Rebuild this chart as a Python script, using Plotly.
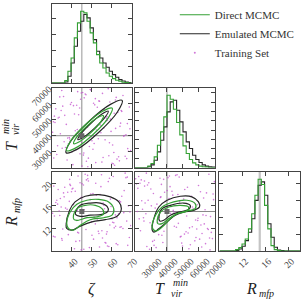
import plotly.graph_objects as go

# ---------------- data ----------------
zeta_range = [30, 70]
tvir_range = [20000, 70000]
rmfp_range = [8, 22]
zeta_true, tvir_true, rmfp_true = 45, 40000, 15

zeta_ticks = [40, 50, 60, 70]
tvir_ticks = [30000, 40000, 50000, 60000, 70000]
rmfp_ticks = [12, 16, 20]

# 25-bin histograms over the axis ranges
zeta_direct = [0, 0, 0, 0, 7, 35, 75, 135, 180, 215, 210, 185, 150, 120, 85, 60, 45, 30, 20, 13, 8, 5, 2, 1, 0]
zeta_emulated = [0, 0, 0, 0, 3, 20, 60, 110, 155, 185, 205, 195, 165, 130, 95, 75, 60, 47, 35, 25, 17, 10, 6, 3, 1]
tvir_direct = [0, 0, 0, 0, 4, 12, 32, 67, 107, 152, 217, 205, 175, 135, 98, 65, 42, 24, 14, 8, 4, 2, 1, 0, 0]
tvir_emulated = [0, 0, 0, 0, 2, 8, 22, 47, 82, 122, 167, 197, 202, 172, 137, 107, 77, 57, 37, 24, 15, 8, 4, 2, 1]
rmfp_direct = [0, 0, 0, 0, 0, 4, 10, 21, 36, 66, 111, 166, 214, 198, 136, 66, 16, 4, 1, 0, 0, 0, 0, 0, 0]
rmfp_emulated = [0, 0, 0, 0, 0, 2, 6, 14, 31, 56, 96, 151, 196, 206, 166, 81, 41, 11, 3, 1, 0, 0, 0, 0, 0]

# contour paths (x, y)
tz_emu_outer = [(65.3, 62200), (62.9, 54900), (53.7, 42300), (43.0, 31700), (37.1, 29300), (39.4, 36500), (48.7, 49100), (59.4, 59700)]
tz_emu_inner = [(58.3, 55400), (56.8, 51800), (51.7, 45050), (46.0, 39150), (43.0, 37500), (44.5, 41100), (49.6, 47850), (55.35, 53800)]
tz_dir_outer = [(60.3, 57300), (58.4, 51400), (50.9, 41100), (42.2, 32500), (37.4, 30550), (39.25, 36450), (46.7, 46700), (55.45, 55350)]
tz_dir_inner = [(55.9, 52600), (54.6, 48850), (49.7, 42100), (44.0, 36400), (40.85, 35000), (42.2, 38800), (47.1, 45500), (52.8, 51250)]

rz_emu_outer = [(37.1, 12.6), (38.8, 15.2), (41.6, 16.7), (46.7, 17.7), (53.5, 18.0), (59.4, 17.6), (63.6, 16.7), (64.9, 15.5), (62.7, 14.15), (56.8, 13.55), (50.1, 13.15), (44.2, 12.4), (40.0, 11.7), (37.4, 12.0)]
rz_emu_inner = [(42.15, 15.2), (44.2, 16.1), (49.2, 16.5), (54.3, 16.5), (57.7, 15.9), (58.2, 15.1), (55.15, 14.5), (49.2, 14.35), (44.2, 14.15), (41.8, 14.5)]
rz_dir_outer = [(37.4, 12.85), (39.1, 14.9), (42.5, 16.3), (47.55, 17.0), (53.5, 17.15), (58.5, 16.7), (61.05, 15.5), (60.2, 14.35), (56.0, 13.9), (49.2, 13.55), (44.2, 12.55), (40.8, 11.7), (38.3, 12.0)]
rz_dir_inner = [(40.8, 14.35), (42.5, 15.5), (46.7, 16.1), (51.8, 16.1), (55.15, 15.5), (56.0, 14.6), (52.6, 14.05), (47.55, 13.9), (43.3, 13.45), (41.1, 13.55)]

rt_emu_outer = [(30760, 11.7), (31790, 13.75), (34890, 15.8), (40060, 17.0), (48320, 17.7), (55550, 17.6), (59670, 16.7), (60290, 15.8), (56580, 15.2), (50380, 14.9), (45220, 14.35), (40060, 13.15), (34890, 11.95), (31790, 11.35)]
rt_emu_inner = [(34890, 14.05), (36960, 15.5), (42120, 16.1), (50380, 16.5), (54510, 16.1), (53480, 15.35), (47280, 14.9), (42120, 14.35), (37990, 13.45), (35510, 13.3)]
rt_dir_outer = [(30760, 12.25), (32830, 14.35), (36960, 15.8), (44180, 16.7), (52450, 17.0), (57610, 16.4), (57610, 15.5), (52450, 15.1), (46250, 14.6), (42120, 13.75), (36960, 12.25), (32830, 11.55)]
rt_dir_inner = [(33860, 13.45), (35920, 14.9), (41090, 15.8), (48320, 16.1), (53480, 15.8), (52450, 15.1), (46250, 14.6), (41090, 13.75), (36960, 12.85), (34270, 12.85)]

# training set parameters
train_zeta = [31.2, 45.8, 62.3, 38.7, 55.1, 67.9, 42.4, 50.6, 34.9, 59.7,
              48.3, 64.8, 36.1, 53.9, 69.2, 40.5, 57.4, 32.8, 46.7, 61.1,
              43.9, 66.3, 37.6, 51.8, 58.9, 30.7, 49.2, 63.5, 41.3, 54.6,
              68.4, 35.4, 47.9, 60.2, 39.8, 56.7, 33.6, 44.1, 65.7, 52.3,
              38.2, 61.9, 45.1, 57.9, 31.9, 49.9, 66.8, 42.9, 54.2, 36.8,
              63.1, 47.3, 59.1, 34.2, 51.2, 68.9, 40.1, 56.1, 44.7, 62.7,
              33.1, 53.3, 46.2, 60.8, 37.2, 65.1, 42.0, 58.3, 30.3, 50.1,
              55.7, 39.3, 64.2, 48.8, 35.8, 61.5, 43.4, 67.2, 52.8, 32.4,
              57.1, 45.4, 38.9, 63.9, 50.9, 41.7, 69.6, 34.6, 54.9, 47.1,
              60.5, 36.4, 58.6, 44.4, 66.1, 31.5, 52.0, 40.8, 62.0, 49.5,
              35.1, 56.4, 43.1, 67.6, 53.6, 39.0, 59.4, 46.0, 33.9, 64.5,
              48.0, 61.3, 37.9, 55.4, 42.7, 68.1, 51.5, 30.9, 57.7, 45.0]
train_tvir = [52300, 27800, 64100, 38900, 23400, 47600, 59200, 31500, 68400, 42700,
              25900, 55800, 36200, 61700, 44300, 21800, 50900, 33700, 66200, 29400,
              57400, 40100, 24700, 63300, 35600, 48800, 69100, 26800, 53700, 41900,
              30200, 58600, 45400, 22600, 60900, 37400, 51600, 28600, 65300, 43600,
              34800, 62500, 20900, 49700, 56900, 39300, 27100, 67700, 46800, 32600,
              54600, 23900, 61200, 41200, 35100, 58100, 29900, 44900, 66900, 25300,
              51100, 38100, 63800, 22300, 47100, 55300, 31000, 69600, 42200, 36800,
              26300, 59700, 45900, 33200, 64700, 21400, 53200, 40600, 57900, 28200,
              49200, 67200, 37900, 24200, 60400, 43100, 30700, 55900, 46300, 65800,
              34200, 52800, 27400, 62900, 39700, 48300, 23100, 58900, 44600, 68800,
              32100, 56400, 41500, 25600, 61900, 36500, 50400, 29100, 64400, 47900,
              20400, 54100, 38500, 66600, 43900, 31900, 59400, 26000, 51900, 35900]
train_rmfp = [14.2, 19.7, 9.3, 16.8, 11.6, 21.1, 13.4, 18.2, 10.2, 15.9,
              20.4, 12.3, 17.6, 8.7, 14.9, 19.1, 11.0, 16.3, 21.6, 13.0,
              9.8, 18.7, 15.4, 12.8, 20.9, 10.6, 17.1, 14.6, 8.4, 19.4,
              16.0, 11.9, 21.4, 13.7, 18.5, 9.5, 15.1, 20.1, 12.0, 17.9,
              10.9, 14.4, 19.9, 8.9, 16.6, 13.2, 21.8, 11.3, 18.0, 15.6,
              9.1, 20.6, 12.6, 17.3, 14.0, 10.4, 19.0, 16.1, 8.2, 13.9,
              18.9, 11.5, 15.3, 21.2, 12.9, 17.7, 9.7, 20.3, 14.7, 10.8,
              16.5, 19.6, 12.2, 8.6, 18.3, 15.0, 11.2, 21.0, 13.5, 17.0,
              9.4, 14.1, 20.7, 16.9, 10.1, 18.6, 12.5, 15.8, 21.5, 11.8,
              13.1, 19.3, 8.8, 17.4, 14.8, 10.5, 20.0, 16.2, 12.4, 18.1,
              9.9, 15.5, 21.3, 13.3, 11.1, 19.8, 17.2, 8.3, 14.3, 16.7,
              20.8, 12.1, 18.4, 10.3, 15.2, 9.0, 13.8, 19.5, 11.4, 17.5]

# ---------------- style ----------------
GREEN = "#34a034"
BLACK = "#262626"
MAGENTA = "#c24ccc"
TRUTH = "#8a8a8a"
FRAME = "#444444"
SERIF = "Liberation Serif"

COLS = [[0.1711, 0.4326], [0.4441, 0.7072], [0.7220, 0.9868]]
ROWS = [[0.7270, 0.9868], [0.4490, 0.7105], [0.1743, 0.4342]]

fig = go.Figure()


def step_xy(rng, counts):
    n = len(counts)
    w = (rng[1] - rng[0]) / n
    xs = [rng[0]] + [rng[0] + i * w for i in range(n)] + [rng[1]]
    ys = [0] + list(counts) + [0]
    return xs, ys


def add_hist(ax, rng, direct, emulated, legend=False):
    xs, ys = step_xy(rng, emulated)
    fig.add_trace(go.Scatter(x=xs, y=ys, mode="lines", line=dict(color=BLACK, width=1.1, shape="hv"),
                             xaxis="x" + ax, yaxis="y" + ax, name="Emulated MCMC", showlegend=legend,
                             legendrank=2))
    xs, ys = step_xy(rng, direct)
    fig.add_trace(go.Scatter(x=xs, y=ys, mode="lines", line=dict(color=GREEN, width=1.1, shape="hv"),
                             xaxis="x" + ax, yaxis="y" + ax, name="Direct MCMC", showlegend=legend,
                             legendrank=1))


def add_contour(ax, path, color):
    pts = list(path) + [path[0]]
    fig.add_trace(go.Scatter(x=[p[0] for p in pts], y=[p[1] for p in pts], mode="lines",
                             line=dict(color=color, width=1.2, shape="spline", smoothing=1.1),
                             xaxis="x" + ax, yaxis="y" + ax, showlegend=False, hoverinfo="skip"))


def add_2d(ax, xs, ys, contours, xt, yt, legend=False):
    fig.add_trace(go.Scatter(x=xs, y=ys, mode="markers", marker=dict(color=MAGENTA, size=1.6, opacity=0.75),
                             xaxis="x" + ax, yaxis="y" + ax, name="Training Set", showlegend=legend,
                             legendrank=3))
    for path, color in contours:
        add_contour(ax, path, color)
    fig.add_trace(go.Scatter(x=[xt], y=[yt], mode="markers", marker=dict(color="#666666", size=5, symbol="square"),
                             xaxis="x" + ax, yaxis="y" + ax, showlegend=False))


# panel 1: zeta hist
add_hist("", zeta_range, zeta_direct, zeta_emulated, legend=True)
# panel 2: Tvir vs zeta
add_2d("2", train_zeta, train_tvir,
       [(tz_emu_outer, BLACK), (tz_emu_inner, BLACK), (tz_dir_outer, GREEN), (tz_dir_inner, GREEN)],
       zeta_true, tvir_true, legend=True)
# panel 3: Tvir hist
add_hist("3", tvir_range, tvir_direct, tvir_emulated)
# panel 4: Rmfp vs zeta
add_2d("4", train_zeta, train_rmfp,
       [(rz_emu_outer, BLACK), (rz_emu_inner, BLACK), (rz_dir_outer, GREEN), (rz_dir_inner, GREEN)],
       zeta_true, rmfp_true)
# panel 5: Rmfp vs Tvir
add_2d("5", train_tvir, train_rmfp,
       [(rt_emu_outer, BLACK), (rt_emu_inner, BLACK), (rt_dir_outer, GREEN), (rt_dir_inner, GREEN)],
       tvir_true, rmfp_true)
# panel 6: Rmfp hist
add_hist("6", rmfp_range, rmfp_direct, rmfp_emulated)

base = dict(showline=True, linecolor=FRAME, linewidth=1, mirror="ticks", ticks="inside", ticklen=4,
            tickcolor=FRAME, tickwidth=1, showgrid=False, zeroline=False, automargin=False,
            tickfont=dict(family=SERIF, size=9.5, color="#444444"), tickangle=-45)


def xax(col, rng, ticks, labels, shift=0):
    d = dict(base, domain=COLS[col], range=rng, tickvals=ticks, ticktext=[str(t) for t in ticks],
             showticklabels=labels)
    if labels:
        d["ticklabelshift"] = shift
    return d


def yax(row, rng, ticks, labels, anchor):
    return dict(base, domain=ROWS[row], range=rng, tickvals=ticks, ticktext=[str(t) for t in ticks],
                showticklabels=labels, anchor=anchor)


hist_max = lambda a, b: 1.1 * max(max(a), max(b))

fig.update_layout(
    xaxis=dict(xax(0, zeta_range, zeta_ticks, False), anchor="y"),
    yaxis=dict(yax(0, [0, hist_max(zeta_direct, zeta_emulated)], [48, 96, 144, 192], False, "x")),
    xaxis2=dict(xax(0, zeta_range, zeta_ticks, False), anchor="y2"),
    yaxis2=dict(yax(1, tvir_range, tvir_ticks, True, "x2")),
    xaxis3=dict(xax(1, tvir_range, tvir_ticks, False), anchor="y3"),
    yaxis3=dict(yax(1, [0, hist_max(tvir_direct, tvir_emulated)], [28 * i for i in range(1, 9)], False, "x3")),
    xaxis4=dict(xax(0, zeta_range, zeta_ticks, True, 3), anchor="y4"),
    yaxis4=dict(yax(2, rmfp_range, rmfp_ticks, True, "x4")),
    xaxis5=dict(xax(1, tvir_range, tvir_ticks, True, 8), anchor="y5"),
    yaxis5=dict(yax(2, rmfp_range, rmfp_ticks, False, "x5")),
    xaxis6=dict(xax(2, rmfp_range, rmfp_ticks, True, 3), anchor="y6"),
    yaxis6=dict(yax(2, [0, hist_max(rmfp_direct, rmfp_emulated)], [50, 100, 150, 200], False, "x6")),
)

shapes = []
# truth lines in histograms
for ax, val, w, c in [("", zeta_true, 1.2, "#a8a8a8"), ("3", tvir_true, 1.2, "#a8a8a8"), ("6", rmfp_true, 2.2, "#c4c4c4")]:
    shapes.append(dict(type="line", xref="x" + ax, yref=("y" + ax) + " domain", x0=val, x1=val, y0=0, y1=1,
                       line=dict(color=c, width=w), layer="below"))
# truth lines in 2D panels
for ax, xv, yv in [("2", zeta_true, tvir_true), ("4", zeta_true, rmfp_true), ("5", tvir_true, rmfp_true)]:
    shapes.append(dict(type="line", xref="x" + ax, yref="y" + ax + " domain", x0=xv, x1=xv, y0=0, y1=1,
                       line=dict(color=TRUTH, width=1), layer="below"))
    shapes.append(dict(type="line", xref="x" + ax + " domain", yref="y" + ax, x0=0, x1=1, y0=yv, y1=yv,
                       line=dict(color=TRUTH, width=1), layer="below"))


def ann(text, x, y, size, angle=0):
    return dict(text=text, x=x / 304, y=1 - y / 304, xref="paper", yref="paper", showarrow=False,
                xanchor="center", yanchor="middle", textangle=angle,
                font=dict(family=SERIF, size=size, color="#222222"))


annotations = [
    ann("<i>ζ</i>", 92, 289, 16),
    ann("<i>T</i>", 160, 288, 16),
    ann("<i>min</i>", 180, 282, 10),
    ann("<i>vir</i>", 176, 293, 10),
    ann("<i>R</i>", 251, 288, 16),
    ann("<i>mfp</i>", 266, 293, 10),
    ann("<i>T</i>", 11, 146, 16, -90),
    ann("<i>min</i>", 5, 127, 10, -90),
    ann("<i>vir</i>", 16, 130, 10, -90),
    ann("<i>R</i>", 11, 222, 16, -90),
    ann("<i>mfp</i>", 16, 206, 10, -90),
]

fig.update_layout(
    width=304, height=304, margin=dict(l=0, r=0, t=0, b=0),
    paper_bgcolor="white", plot_bgcolor="white",
    shapes=shapes, annotations=annotations,
    legend=dict(x=0.575, y=0.999, xanchor="left", yanchor="top", bgcolor="rgba(0,0,0,0)",
                font=dict(family=SERIF, size=11, color="#333333"), itemwidth=30, tracegroupgap=0),
)

fig.write_html("out.html", config={"displayModeBar": False},
               post_script="document.body.style.margin='0px';document.body.style.padding='0px';")
